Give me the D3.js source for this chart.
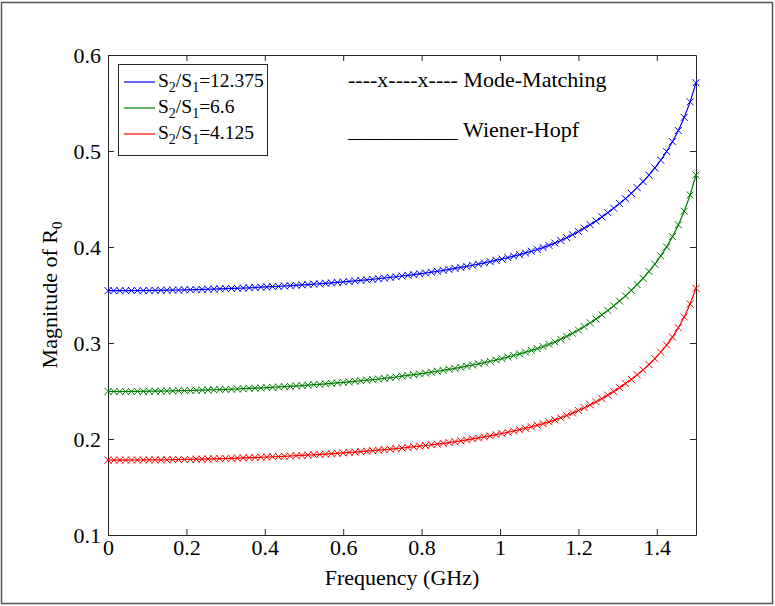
<!DOCTYPE html>
<html><head><meta charset="utf-8">
<script src="https://cdn.jsdelivr.net/npm/d3@7"></script>
<style>html,body{margin:0;padding:0;background:#fff;} text{font-family:"Liberation Serif",Tinos,"Times New Roman","DejaVu Serif",serif !important;}</style>
</head><body><svg id="c" width="775" height="606"></svg>
<script>
const freq = [0,0.015,0.03,0.045,0.06,0.075,0.09,0.105,0.12,0.135,
0.15,0.165,0.18,0.195,0.21,0.225,0.24,0.255,0.27,0.285,
0.3,0.315,0.33,0.345,0.36,0.375,0.39,0.405,0.42,0.435,
0.45,0.465,0.48,0.495,0.51,0.525,0.54,0.555,0.57,0.585,
0.6,0.615,0.63,0.645,0.66,0.675,0.69,0.705,0.72,0.735,
0.75,0.765,0.78,0.795,0.81,0.825,0.84,0.855,0.87,0.885,
0.9,0.915,0.93,0.945,0.96,0.975,0.99,1.005,1.02,1.035,
1.05,1.065,1.08,1.095,1.11,1.125,1.14,1.155,1.17,1.185,
1.2,1.215,1.23,1.245,1.26,1.275,1.29,1.305,1.32,1.335,
1.35,1.365,1.38,1.395,1.41,1.425,1.44,1.455,1.47,1.485,
1.5];

const ratio12375 = [.3545,.3545,.3545,.3545,.3546,.3546,.3547,.3547,.3548,.3549,
.3550,.3551,.3552,.3554,.3555,.3557,.3558,.3560,.3562,.3564,
.3566,.3568,.3570,.3573,.3575,.3578,.3581,.3584,.3587,.3590,
.3594,.3597,.3601,.3605,.3609,.3613,.3617,.3622,.3626,.3631,
.3636,.3641,.3647,.3652,.3658,.3664,.3670,.3677,.3683,.3690,
.3698,.3705,.3713,.3721,.3729,.3738,.3747,.3757,.3766,.3777,
.3787,.3798,.3810,.3822,.3834,.3847,.3861,.3875,.3889,.3905,
.3921,.3938,.3956,.3974,.3994,.4017,.4041,.4068,.4097,.4128,
.4161,.4196,.4233,.4272,.4314,.4358,.4404,.4453,.4504,.4559,
.4618,.4681,.4749,.4823,.4904,.4995,.5097,.5213,.5350,.5512,
.5711];

const ratio66 = [.2495,.2495,.2495,.2495,.2496,.2496,.2497,.2498,.2498,.2499,
.2500,.2501,.2503,.2504,.2505,.2507,.2509,.2511,.2513,.2515,
.2517,.2519,.2521,.2524,.2527,.2529,.2532,.2536,.2539,.2542,
.2546,.2549,.2553,.2557,.2561,.2566,.2570,.2575,.2580,.2585,
.2590,.2595,.2601,.2607,.2613,.2619,.2625,.2632,.2639,.2646,
.2654,.2662,.2670,.2678,.2687,.2696,.2706,.2715,.2726,.2736,
.2747,.2759,.2771,.2783,.2796,.2809,.2823,.2838,.2854,.2870,
.2887,.2904,.2923,.2942,.2963,.2986,.3011,.3039,.3069,.3101,
.3135,.3171,.3210,.3250,.3293,.3339,.3387,.3437,.3491,.3548,
.3609,.3674,.3745,.3822,.3907,.4001,.4108,.4230,.4372,.4542,
.4750];

const ratio4125 = [.1780,.1780,.1780,.1780,.1781,.1781,.1782,.1782,.1783,.1783,
.1784,.1785,.1786,.1787,.1788,.1790,.1791,.1792,.1794,.1796,
.1797,.1799,.1801,.1803,.1805,.1807,.1810,.1812,.1815,.1817,
.1820,.1823,.1826,.1829,.1833,.1836,.1840,.1843,.1847,.1851,
.1855,.1860,.1864,.1869,.1873,.1878,.1884,.1889,.1894,.1900,
.1906,.1912,.1919,.1926,.1932,.1940,.1947,.1955,.1963,.1972,
.1981,.1991,.2001,.2011,.2022,.2033,.2045,.2057,.2070,.2083,
.2097,.2112,.2127,.2143,.2160,.2179,.2199,.2221,.2245,.2270,
.2297,.2326,.2356,.2388,.2421,.2457,.2495,.2535,.2577,.2621,
.2669,.2720,.2776,.2837,.2904,.2978,.3062,.3159,.3271,.3406,
.3570];

const ratioLabels = ["12.375","6.6","4.125"];
const seriesValues = [ratio12375, ratio66, ratio4125];
const seriesColors = ["#0000ff","#008000","#ff0000"];

const xTicks = [0,0.2,0.4,0.6,0.8,1,1.2,1.4];
const xTickLabels = ["0","0.2","0.4","0.6","0.8","1","1.2","1.4"];
const yTicks = [0.1,0.2,0.3,0.4,0.5,0.6];
const yTickLabels = ["0.1","0.2","0.3","0.4","0.5","0.6"];

const FONT = "'Liberation Serif', Tinos, 'Times New Roman', serif";
const svg = d3.select("#c");
const axisColor = "#262626";

// figure border
svg.append("rect").attr("x",1.5).attr("y",2.5).attr("width",771).attr("height",601)
  .attr("fill","none").attr("stroke","#555").attr("stroke-width",1.5);

const x = d3.scaleLinear().domain([0,1.5]).range([108,696]);
const y = d3.scaleLinear().domain([0.1,0.6]).range([535,55]);

function styleAxis(g, showText){
  g.attr("font-family", FONT);
  g.select(".domain").attr("stroke",axisColor).attr("stroke-width",1);
  g.selectAll(".tick line").attr("stroke",axisColor).attr("stroke-width",1);
  g.selectAll(".tick text").attr("fill","#000").attr("font-family",FONT).attr("font-size",22);
  if(!showText) g.selectAll(".tick text").remove();
}

svg.append("g").attr("transform",`translate(0,${y(0.1)})`)
  .call(d3.axisBottom(x).tickValues(xTicks).tickFormat((d,i)=>xTickLabels[i]).tickSizeInner(-6).tickSizeOuter(0).tickPadding(4))
  .call(g=>styleAxis(g,true));
svg.append("g").attr("transform",`translate(0,${y(0.6)})`)
  .call(d3.axisTop(x).tickValues(xTicks).tickSizeInner(-6).tickSizeOuter(0))
  .call(g=>styleAxis(g,false));
svg.append("g").attr("transform",`translate(${x(0)},0)`)
  .call(d3.axisLeft(y).tickValues(yTicks).tickFormat((d,i)=>yTickLabels[i]).tickSizeInner(-6).tickSizeOuter(0).tickPadding(7))
  .call(g=>styleAxis(g,true));
svg.append("g").attr("transform",`translate(${x(1.5)},0)`)
  .call(d3.axisRight(y).tickValues(yTicks).tickSizeInner(-6).tickSizeOuter(0))
  .call(g=>styleAxis(g,false));

// curves
const line = d3.line().x((d,i)=>x(freq[i])).y(d=>y(d));
const plot = svg.append("g");
seriesValues.forEach((vals,si)=>{
  plot.append("path").datum(vals).attr("d",line).attr("fill","none")
    .attr("stroke",seriesColors[si]).attr("stroke-width",1.2);
  plot.append("g").selectAll("path").data(vals).join("path")
    .attr("transform",(d,i)=>`translate(${x(freq[i])},${y(d)})`)
    .attr("d","M-3.5,-3.5L3.5,3.5M-3.5,3.5L3.5,-3.5")
    .attr("stroke",seriesColors[si]).attr("stroke-width",1).attr("fill","none");
});

// axis labels
svg.append("text").attr("x",(x(0)+x(1.5))/2).attr("y",585).attr("text-anchor","middle")
  .attr("font-family",FONT).attr("font-size",22).attr("fill","#000").text("Frequency (GHz)");
const yl = svg.append("text").attr("transform",`translate(57,${(y(0.1)+y(0.6))/2}) rotate(-90)`)
  .attr("text-anchor","middle").attr("font-family",FONT).attr("font-size",22).attr("fill","#000");
yl.append("tspan").text("Magnitude of R");
yl.append("tspan").attr("dy",5).attr("font-size",15).text("0");

// legend
const lg = svg.append("g");
lg.append("rect").attr("x",118.5).attr("y",64.5).attr("width",149).attr("height",91)
  .attr("fill","#fff").attr("stroke",axisColor).attr("stroke-width",1);
ratioLabels.forEach((lab,i)=>{
  const ry = 82 + i*26;
  lg.append("line").attr("x1",124).attr("x2",155).attr("y1",ry).attr("y2",ry)
    .attr("stroke",seriesColors[i]).attr("stroke-width",1.2);
  const t = lg.append("text").attr("x",158).attr("y",ry+4.5).attr("font-family",FONT)
    .attr("font-size",19.5).attr("fill","#000");
  t.append("tspan").text("S");
  t.append("tspan").attr("dy",5).attr("font-size",14).text("2");
  t.append("tspan").attr("dy",-5).text("/S");
  t.append("tspan").attr("dy",5).attr("font-size",14).text("1");
  t.append("tspan").attr("dy",-5).text("=" + lab);
});

// annotations
svg.append("text").attr("x",348).attr("y",87).attr("font-family",FONT).attr("font-size",22).attr("fill","#000")
  .text("----x----x---- Mode-Matching");
svg.append("text").attr("x",348).attr("y",137).attr("font-family",FONT).attr("font-size",22).attr("fill","#000")
  .text("__________ Wiener-Hopf");
</script></body></html>
